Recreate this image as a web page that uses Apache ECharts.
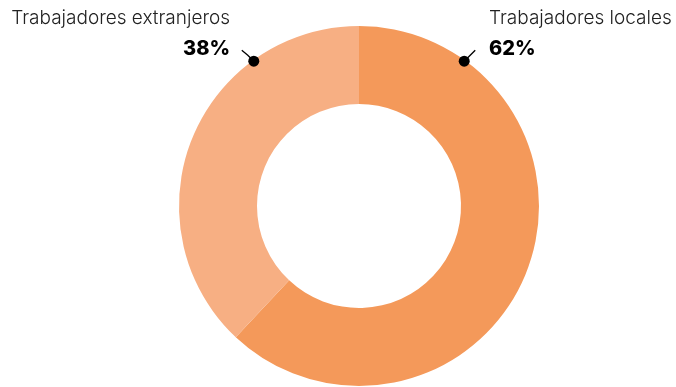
<!DOCTYPE html>
<html>
<head>
<meta charset="utf-8">
<script src="https://cdn.jsdelivr.net/npm/echarts@6/dist/echarts.min.js"></script>
<style>
  html, body { margin: 0; padding: 0; background: #fff; }
  #chart { width: 676px; height: 387px; }
</style>
</head>
<body>
<div id="chart"></div>
<script>
// Worker composition
const categories = ['Trabajadores locales', 'Trabajadores extranjeros'];
const shares = [62, 38];
const colors = ['#F4995A', '#F7AF83'];

const CX = 359, CY = 206, R_IN = 102, R_OUT = 180;
// Marker angles (degrees from the top, positive = clockwise)
const markerAngles = [36, -36];

function markerPoint(angleDeg, r) {
  const a = angleDeg * Math.PI / 180;
  return [CX + r * Math.sin(a), CY - r * Math.cos(a)];
}

const chart = echarts.init(document.getElementById('chart'), null, { renderer: 'canvas' });

const dots = markerAngles.map(function (ang) {
  const p = markerPoint(ang, R_OUT - 1);
  return { type: 'circle', shape: { cx: p[0], cy: p[1], r: 5.5 }, style: { fill: '#000' }, z: 100 };
});

chart.setOption({
  animation: false,
  graphic: dots,
  series: [{
    type: 'pie',
    center: [CX, CY],
    radius: [R_IN, R_OUT],
    startAngle: 90,
    clockwise: true,
    silent: true,
    avoidLabelOverlap: false,
    data: categories.map(function (name, i) {
      return { name: name, value: shares[i], itemStyle: { color: colors[i] } };
    }),
    label: {
      show: true,
      overflow: 'none',
      width: 300,
      formatter: function (p) { return '{n|' + p.name + '}\n{v|' + p.value + '%}'; },
      rich: {
        n: { fontFamily: 'Inter', fontWeight: 300, fontSize: 19, color: '#222', lineHeight: 30 },
        v: { fontFamily: 'Inter', fontWeight: 800, fontSize: 20, color: '#000', lineHeight: 32 }
      }
    },
    labelLine: { show: true, lineStyle: { color: '#000', width: 1.3 } },
    labelLayout: function (params) {
      const i = params.dataIndex;
      const p = markerPoint(markerAngles[i], R_OUT - 1);
      if (i === 0) {
        return {
          x: 489, y: 3, align: 'left', verticalAlign: 'top',
          labelLinePoints: [[p[0], p[1]], [p[0] + 6, p[1] - 6], [p[0] + 11, p[1] - 11]]
        };
      }
      return {
        x: 230, y: 3, align: 'right', verticalAlign: 'top',
        labelLinePoints: [[p[0], p[1]], [p[0] - 6, p[1] - 6], [p[0] - 12, p[1] - 11]]
      };
    }
  }]
});
</script>
</body>
</html>
